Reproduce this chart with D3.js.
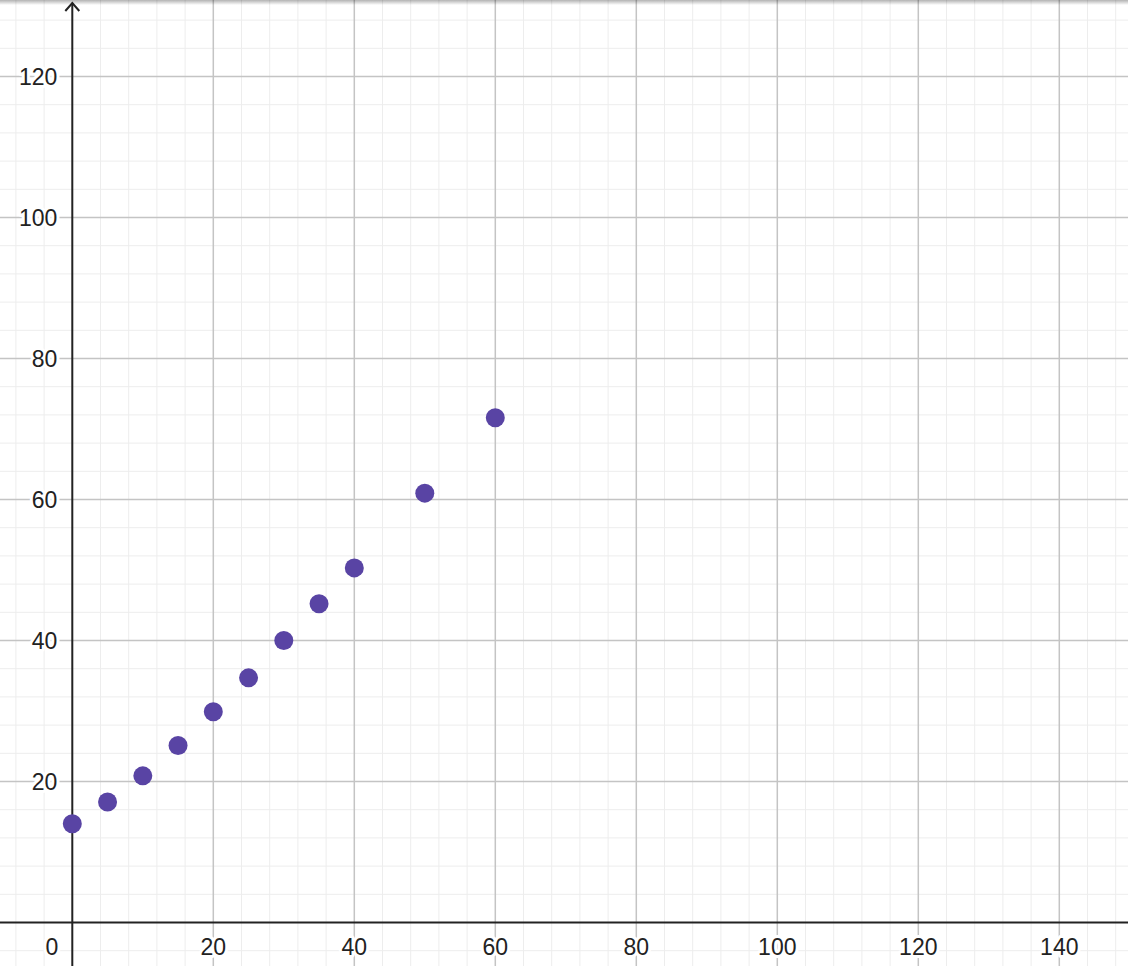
<!DOCTYPE html>
<html>
<head>
<meta charset="utf-8">
<script src="https://cdn.jsdelivr.net/npm/d3@7"></script>
<style>
  html, body { margin: 0; padding: 0; background: #fff; overflow: hidden; }
  svg { display: block; }
</style>
</head>
<body>
<svg id="chart" width="1128" height="966"></svg>
<script>
// Data
const xValues = [0, 5, 10, 15, 20, 25, 30, 35, 40, 50, 60];
const yValues = [14, 17.1, 20.8, 25.1, 29.9, 34.7, 40, 45.2, 50.3, 60.9, 71.6];
const xTickLabels = [0, 20, 40, 60, 80, 100, 120, 140];
const yTickLabels = [20, 40, 60, 80, 100, 120];

const W = 1128, H = 966;
const svg = d3.select("#chart");

const pxPerUnit = 7.05;
const x0 = 72.3, y0 = 922.5;
const x = d3.scaleLinear()
  .domain([-x0 / pxPerUnit, (W - x0) / pxPerUnit])
  .range([0, W]);
const y = d3.scaleLinear()
  .domain([-(H - y0) / pxPerUnit, y0 / pxPerUnit])
  .range([H, 0]);

// Grid: minor every 4 units, major every 20
const minorX = d3.range(-8, 152, 4).filter(v => v % 20 !== 0);
const minorY = d3.range(-4, 132, 4).filter(v => v % 20 !== 0);
const majorX = d3.range(20, 160, 20);
const majorY = d3.range(20, 140, 20);

const grid = svg.append("g");
grid.selectAll(".mx").data(minorX).join("line")
  .attr("x1", d => x(d)).attr("x2", d => x(d)).attr("y1", 0).attr("y2", H)
  .attr("stroke", "#ededed").attr("stroke-width", 1);
grid.selectAll(".my").data(minorY).join("line")
  .attr("y1", d => y(d)).attr("y2", d => y(d)).attr("x1", 0).attr("x2", W)
  .attr("stroke", "#ededed").attr("stroke-width", 1);
grid.selectAll(".Mx").data(majorX).join("line")
  .attr("x1", d => x(d)).attr("x2", d => x(d)).attr("y1", 0).attr("y2", H)
  .attr("stroke", "#c4c4c4").attr("stroke-width", 1.5);
grid.selectAll(".My").data(majorY).join("line")
  .attr("y1", d => y(d)).attr("y2", d => y(d)).attr("x1", 0).attr("x2", W)
  .attr("stroke", "#c4c4c4").attr("stroke-width", 1.5);

// Axes
svg.append("line")
  .attr("x1", 0).attr("x2", W).attr("y1", y(0)).attr("y2", y(0))
  .attr("stroke", "#222").attr("stroke-width", 2);
svg.append("line")
  .attr("x1", x(0)).attr("x2", x(0)).attr("y1", 3).attr("y2", H)
  .attr("stroke", "#222").attr("stroke-width", 2);
// arrow on y axis
svg.append("path")
  .attr("d", `M${x(0) - 7},${11} L${x(0)},${3} L${x(0) + 7},${11}`)
  .attr("fill", "none").attr("stroke", "#222").attr("stroke-width", 2);

// Labels
const fontFam = "'Liberation Sans', Arial, sans-serif";
const labels = svg.append("g")
  .attr("font-family", fontFam).attr("font-size", 23).attr("fill", "#222")
  .attr("stroke", "#fff").attr("stroke-width", 6).attr("paint-order", "stroke")
  .attr("stroke-linejoin", "round");

labels.selectAll(".xl").data(xTickLabels).join("text")
  .attr("x", d => d === 0 ? x(0) - 14 : x(d))
  .attr("y", y(0) + 24)
  .attr("dy", "0.35em")
  .attr("text-anchor", d => d === 0 ? "end" : "middle")
  .text(d => d);

labels.selectAll(".yl").data(yTickLabels).join("text")
  .attr("x", x(0) - 15)
  .attr("y", d => y(d))
  .attr("dy", "0.35em")
  .attr("text-anchor", "end")
  .text(d => d);

// Points
const pts = xValues.map((v, i) => ({ x: v, y: yValues[i] }));
svg.append("g").selectAll("circle").data(pts).join("circle")
  .attr("cx", d => x(d.x)).attr("cy", d => y(d.y)).attr("r", 9.5)
  .attr("fill", "#5944a4");

// Top shadow
const defs = svg.append("defs");
const grad = defs.append("linearGradient").attr("id", "shadow")
  .attr("x1", 0).attr("x2", 0).attr("y1", 0).attr("y2", 1);
grad.append("stop").attr("offset", "0%").attr("stop-color", "#000").attr("stop-opacity", 0.3);
grad.append("stop").attr("offset", "100%").attr("stop-color", "#000").attr("stop-opacity", 0);
svg.append("rect").attr("x", 0).attr("y", 0).attr("width", W).attr("height", 5)
  .attr("fill", "url(#shadow)");
</script>
</body>
</html>
